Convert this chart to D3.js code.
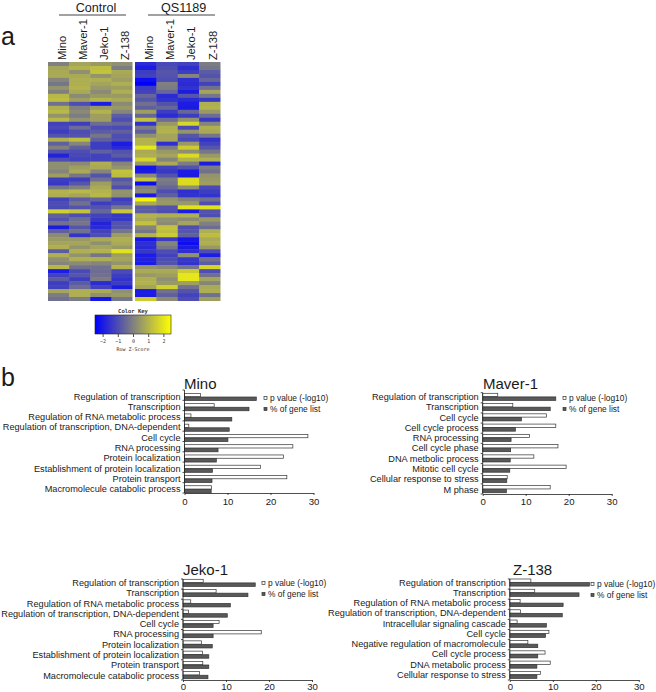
<!DOCTYPE html>
<html lang="en">
<head>
  <meta charset="UTF-8">
  <script src="https://d3js.org/d3.v7.min.js"></script>
  <title>Heatmap and GO terms</title>
  <style>
    body { margin: 0; background: #fff; font-family: "Liberation Sans", Arial, sans-serif; overflow: hidden; }
    svg { display: block; }
    text { fill: #1a1a1a; }
    .mono text, text.mono { font-family: "DejaVu Sans Mono", monospace; fill: #333; }
    .axis path, .axis line { stroke: #222; stroke-width: 0.8; }
    .noline path { stroke: none; }
  </style>
</head>
<body>
<script>
  // Heatmap: rows top to bottom, 4 control columns then 4 QS1189 columns (z-scores read by eye)
  const cellLines = ["Mino", "Maver-1", "Jeko-1", "Z-138"];
  const conditions = ["Control", "QS1189"];
  const heatRows = [
    [0.0,0.7,0.5,0.3,-1.7,-1.1,-1.2,-0.1],
    [0.7,1.0,1.2,-0.1,-1.9,-1.0,-1.6,-0.2],
    [0.8,0.3,1.3,0.8,-1.3,-0.8,-1.3,-0.7],
    [0.8,0.8,0.4,0.7,-1.2,-0.9,0.1,-0.9],
    [0.1,0.9,0.9,0.6,-2.3,-1.0,-1.6,-0.5],
    [-0.2,0.9,0.7,0.9,-2.4,0.0,-1.7,-1.2],
    [0.4,1.0,0.5,0.6,-1.3,-0.1,-1.5,-0.3],
    [0.0,0.8,0.2,0.9,-1.2,-0.5,-1.9,0.7],
    [1.1,0.2,0.5,0.5,-0.5,-1.7,-0.8,-0.2],
    [1.2,0.6,1.0,0.8,-0.8,-1.5,-1.7,-1.4],
    [-0.3,-1.0,-2.0,0.2,-0.3,-0.9,-2.0,0.9],
    [0.9,0.0,0.5,0.5,-0.6,-0.5,-1.9,1.0],
    [1.1,0.2,1.0,0.1,0.6,-1.3,-0.5,0.5],
    [0.4,-0.1,0.6,-0.7,-0.5,-1.7,-1.3,-0.4],
    [1.1,0.4,0.6,-1.0,1.3,-0.4,0.4,-1.4],
    [-1.2,-1.3,-0.4,-0.5,-1.5,0.5,1.7,0.1],
    [-1.1,-0.4,-1.0,-1.1,-0.1,0.9,-1.1,0.9],
    [-1.3,-1.0,-0.7,-0.6,-0.6,1.0,0.4,0.8],
    [-0.9,-0.9,-0.2,-1.0,0.3,0.7,-0.8,-0.2],
    [0.9,1.2,-0.6,-0.9,1.0,0.7,-1.1,-1.5],
    [-0.6,0.1,-1.3,-2.0,1.0,-1.6,0.5,-1.2],
    [0.0,-0.6,-1.3,-1.7,2.0,-0.1,1.5,-0.8],
    [-0.9,-1.0,-0.6,-0.9,0.8,0.5,0.3,-0.2],
    [-1.8,-1.1,-1.2,-0.7,0.9,0.7,1.8,0.5],
    [-1.0,-1.2,-1.2,-1.2,1.7,0.1,1.0,0.9],
    [0.3,0.2,0.9,0.1,0.5,0.8,-0.1,-1.9],
    [0.3,0.6,0.8,0.4,-2.1,-1.2,-0.9,-0.1],
    [0.1,0.8,0.1,1.3,-2.0,-1.4,-2.0,-0.3],
    [0.6,-0.2,-0.9,1.2,0.2,-0.9,-1.9,0.4],
    [-1.3,-1.3,-0.3,-0.8,1.4,-0.1,1.8,0.5],
    [-1.4,-0.8,0.6,-0.5,-2.2,-0.2,1.8,0.6],
    [-0.2,0.0,0.8,-1.0,0.0,-0.5,0.3,-1.1],
    [1.0,1.1,1.0,0.4,0.2,-1.0,-1.6,-1.3],
    [0.9,0.7,1.1,0.3,-1.9,-0.6,-1.5,-1.5],
    [-1.2,-0.7,-0.5,-1.3,2.3,0.4,0.0,-0.3],
    [-1.0,-0.3,-1.3,-1.1,0.8,0.5,0.5,-1.0],
    [-1.1,-0.9,-0.9,-0.2,-0.7,-0.9,1.9,1.9],
    [1.6,1.3,-0.5,1.4,-0.7,-1.0,-2.0,-0.9],
    [-0.6,-1.0,-1.2,-1.4,1.0,0.9,0.9,-1.0],
    [-0.9,-0.4,-1.4,-1.4,0.8,0.3,0.2,0.5],
    [-0.3,-0.2,-1.8,-0.9,1.3,0.2,0.7,0.0],
    [-1.9,-0.8,-1.7,-0.8,0.1,1.3,-1.0,-0.4],
    [-0.6,-0.3,-1.2,-0.2,-0.2,1.2,-0.8,0.9],
    [0.2,-1.5,-1.0,0.6,1.0,1.5,-0.6,1.2],
    [0.5,0.5,0.8,0.9,-2.1,-1.3,-2.1,0.8],
    [0.7,0.7,0.3,0.8,-1.6,0.1,-2.2,0.9],
    [0.9,0.4,0.7,0.5,-1.7,-0.2,-1.9,0.5],
    [-0.7,0.9,1.0,1.9,-1.4,-1.0,-1.6,-1.0],
    [0.9,0.4,-0.2,0.6,-2.0,-1.2,0.3,-2.0],
    [0.3,0.9,0.9,0.7,-1.8,-1.0,-1.4,-0.3],
    [0.1,0.2,0.1,0.4,-2.0,-0.9,-1.5,-0.7],
    [1.1,-0.3,-0.3,1.0,0.4,0.2,-0.2,1.7],
    [-2.0,-1.1,-0.4,-1.1,0.8,0.8,1.5,-1.0],
    [-1.2,-0.8,-0.3,-1.3,0.5,0.6,2.0,-0.3],
    [-0.7,-1.3,-0.1,-1.5,0.9,0.3,2.0,0.7],
    [-1.3,-0.7,-1.7,-1.3,1.0,0.5,0.6,0.1],
    [-1.2,-0.4,-1.2,-1.9,0.7,1.6,-0.3,0.8],
    [0.7,0.9,0.8,0.3,-2.0,-0.3,-0.9,0.9],
    [-0.1,0.9,0.3,0.5,-1.9,-0.6,-1.2,-0.3],
    [-0.3,-0.1,-2.1,-0.2,1.5,0.2,-1.0,0.6]
  ];
  const keyTicks = [-2, -1, 0, 1, 2];

  // GO term bar charts
  const minoTerms = ["Regulation of transcription","Transcription","Regulation of RNA metabolic process","Regulation of transcription, DNA-dependent","Cell cycle","RNA processing","Protein localization","Establishment of protein localization","Protein transport","Macromolecule catabolic process"];
  const minoP = [3.7,6.9,1.5,1.0,28.7,25.2,23.0,17.7,23.8,6.3];
  const minoPct = [16.7,15.0,11.0,10.4,10.1,7.8,7.4,6.5,6.4,6.2];

  const maverTerms = ["Regulation of transcription","Transcription","Cell cycle","Cell cycle process","RNA processing","Cell cycle phase","DNA metbolic process","Mitotic cell cycle","Cellular response to stress","M phase"];
  const maverP = [3.5,7.0,14.8,17.0,10.9,17.5,11.9,19.4,5.7,15.7];
  const maverPct = [17.0,15.7,9.0,7.6,6.6,6.5,6.4,6.3,5.6,5.5];

  const jekoTerms = minoTerms;
  const jekoP = [4.7,7.7,1.8,1.3,8.4,18.2,4.3,4.5,4.6,3.8];
  const jekoPct = [16.8,15.1,11.0,10.3,7.0,7.0,6.8,6.0,6.0,5.8];

  const zTerms = ["Regulation of transcription","Transcription","Regulation of RNA metabolic process","Regulation of transcription, DNA-dependent","Intracellular signaling cascade","Cell cycle","Negative regulation of macromolecule","Cell cycle process","DNA metabolic process","Cellular response to stress"];
  const zP = [4.9,5.8,2.4,2.5,1.7,9.1,4.2,8.2,9.4,7.1];
  const zPct = [18.5,16.1,12.4,12.2,8.5,8.3,6.5,6.5,6.3,6.3];

  const legendLabels = ["p value (-log10)", "% of gene list"];
  const xTicks = [0, 10, 20, 30];

  const svg = d3.select("body").append("svg").attr("width", 656).attr("height", 692);

  svg.append("text").attr("x", 1).attr("y", 45).attr("font-size", 25).text("a");
  svg.append("text").attr("x", 1).attr("y", 386).attr("font-size", 25).text("b");

  // ---- heatmap ----
  const color = d3.scaleLinear().domain([-2.5, 0, 2.5]).range(["#0000ff", "#808080", "#ffff00"]);
  const rowY = d3.scaleBand().domain(d3.range(heatRows.length)).range([62, 301]);
  const groupX = [[48, 132.5], [135, 220.5]];
  const defs = svg.append("defs");
  defs.append("filter").attr("id", "soft").append("feGaussianBlur").attr("stdDeviation", "0.5 0.6");

  conditions.forEach((cond, g) => {
    const colX = d3.scaleBand().domain(cellLines).range(groupX[g]);
    const grp = svg.append("g");
    const clip = defs.append("clipPath").attr("id", "hm" + g);
    clip.append("rect").attr("x", groupX[g][0]).attr("y", 62)
      .attr("width", groupX[g][1] - groupX[g][0]).attr("height", 239);
    const cells = grp.append("g").attr("clip-path", `url(#hm${g})`).append("g").attr("filter", "url(#soft)");
    heatRows.forEach((row, r) => {
      cells.selectAll(null)
        .data(cellLines)
        .enter().append("rect")
        .attr("x", d => colX(d))
        .attr("y", rowY(r))
        .attr("width", colX.bandwidth() + 0.5)
        .attr("height", rowY.bandwidth() + 0.5)
        .attr("fill", (d, i) => color(row[g * 4 + i]));
    });

    // column labels
    grp.selectAll("text.col")
      .data(cellLines)
      .enter().append("text")
      .attr("class", "col")
      .attr("font-size", 11.2)
      .attr("transform", d => `translate(${colX(d) + colX.bandwidth() / 2 + 7},60) rotate(-90)`)
      .text(d => d);

    const lineX = [92.5, 181.5][g];
    grp.append("text").attr("x", [96, 183.7][g]).attr("y", 11.5).attr("font-size", 12.6)
      .attr("text-anchor", "middle").text(cond);
    grp.append("line").attr("x1", lineX - 33.5).attr("x2", lineX + 33.5).attr("y1", 15).attr("y2", 15)
      .attr("stroke", "#444").attr("stroke-width", 1);
  });

  // ---- colour key ----
  const keyX = d3.scaleLinear().domain([-2.5, 2.5]).range([95, 171]);
  const grad = defs.append("linearGradient").attr("id", "keygrad");
  [-2.5, 0, 2.5].forEach((v, i) => {
    grad.append("stop").attr("offset", i * 50 + "%").attr("stop-color", color(v));
  });
  svg.append("rect").attr("x", 95).attr("y", 315).attr("width", 76).attr("height", 19)
    .attr("fill", "url(#keygrad)").attr("stroke", "#222").attr("stroke-width", 0.6);
  svg.append("text").attr("class", "mono").attr("x", 133).attr("y", 313).attr("text-anchor", "middle")
    .attr("font-size", 5.5).attr("font-weight", "bold").text("Color Key");
  svg.append("g").attr("class", "axis mono noline").attr("transform", "translate(0,334)")
    .call(d3.axisBottom(keyX).tickValues(keyTicks).tickSize(3).tickPadding(2).tickFormat(d3.format("d")))
    .call(g => g.selectAll("text").attr("font-size", 5).attr("font-family", "DejaVu Sans Mono"))
    .call(g => g.selectAll("line").attr("stroke-width", 0.5));
  svg.append("text").attr("class", "mono").attr("x", 133).attr("y", 351).attr("text-anchor", "middle")
    .attr("font-size", 5).text("Row Z-Score");

  // ---- bar panels ----
  function barPanel(name, terms, pVals, pctVals, box) {
    const x = d3.scaleLinear().domain([0, 30]).range([box.x0, box.x0 + 129]);
    const y = d3.scaleBand().domain(terms).range([box.y0, box.y0 + 102.6]);
    const g = svg.append("g");

    g.append("text").attr("x", box.titleX).attr("y", box.titleY).attr("font-size", 15).text(name);

    const rows = g.selectAll("g.row").data(terms).enter().append("g").attr("class", "row");
    rows.append("rect")
      .attr("x", x(0)).attr("y", d => y(d) + box.pad)
      .attr("width", (d, i) => x(pVals[i]) - x(0)).attr("height", 3.3)
      .attr("fill", "#fff").attr("stroke", "#333").attr("stroke-width", 0.7);
    rows.append("rect")
      .attr("x", x(0)).attr("y", d => y(d) + box.pad + 3.6)
      .attr("width", (d, i) => x(pctVals[i]) - x(0)).attr("height", 3.5)
      .attr("fill", "#595959").attr("stroke", "#333").attr("stroke-width", 0.7);

    g.append("g").attr("class", "axis").attr("transform", `translate(0,${box.axisY})`)
      .call(d3.axisBottom(x).tickValues(xTicks).tickSize(2).tickPadding(box.tickPad).tickSizeOuter(0))
      .call(s => s.selectAll("text").attr("font-size", 9.6).attr("font-family", "Liberation Sans").attr("fill", "#1a1a1a"));

    const yAxis = g.append("g").attr("class", "axis").attr("transform", `translate(${box.x0},0)`)
      .call(d3.axisLeft(y).tickSize(0).tickPadding(4).tickSizeOuter(0));
    yAxis.select("path").remove();
    yAxis.selectAll(".tick text").attr("font-size", 9.2).attr("font-family", "Liberation Sans")
      .attr("fill", "#1a1a1a").attr("y", box.labelDy);
    // spine and ticks on the band edges, they run to the x axis
    const edge = (box.axisY - box.top) / terms.length;
    yAxis.append("line").attr("y1", box.top).attr("y2", box.axisY);
    yAxis.selectAll("line.edge").data(terms.concat("end")).enter().append("line").attr("class", "edge")
      .attr("x1", -2).attr("x2", 0)
      .attr("y1", (d, i) => box.top + i * edge).attr("y2", (d, i) => box.top + i * edge);

    legendLabels.forEach((label, i) => {
      const ly = box.legendY + i * 11;
      g.append("rect").attr("x", box.legendX).attr("y", ly - 1.5).attr("width", 3).attr("height", 3)
        .attr("fill", i ? "#595959" : "#fff").attr("stroke", "#333").attr("stroke-width", 0.7);
      g.append("text").attr("x", box.legendX + 6).attr("y", ly + 3).attr("font-size", 8.4).text(label);
    });
  }

  barPanel("Mino", minoTerms, minoP, minoPct, { x0: 184.5, y0: 390.4, top: 390, axisY: 493, pad: 3, labelDy: 1.2, tickPad: 3, titleX: 184, titleY: 389, legendX: 264, legendY: 398 });
  barPanel("Maver-1", maverTerms, maverP, maverPct, { x0: 482.7, y0: 393.3, top: 392.7, axisY: 494, pad: 0, labelDy: -1.2, tickPad: 2, titleX: 483, titleY: 389, legendX: 563, legendY: 398 });
  barPanel("Jeko-1", jekoTerms, jekoP, jekoPct, { x0: 183, y0: 579.3, top: 579, axisY: 680, pad: 0, labelDy: -1.2, tickPad: 1, titleX: 183, titleY: 575, legendX: 262, legendY: 583 });
  barPanel("Z-138", zTerms, zP, zPct, { x0: 509.8, y0: 579, top: 579, axisY: 680, pad: 0, labelDy: -1.5, tickPad: 1, titleX: 513, titleY: 575, legendX: 591, legendY: 584 });
</script>
</body>
</html>
